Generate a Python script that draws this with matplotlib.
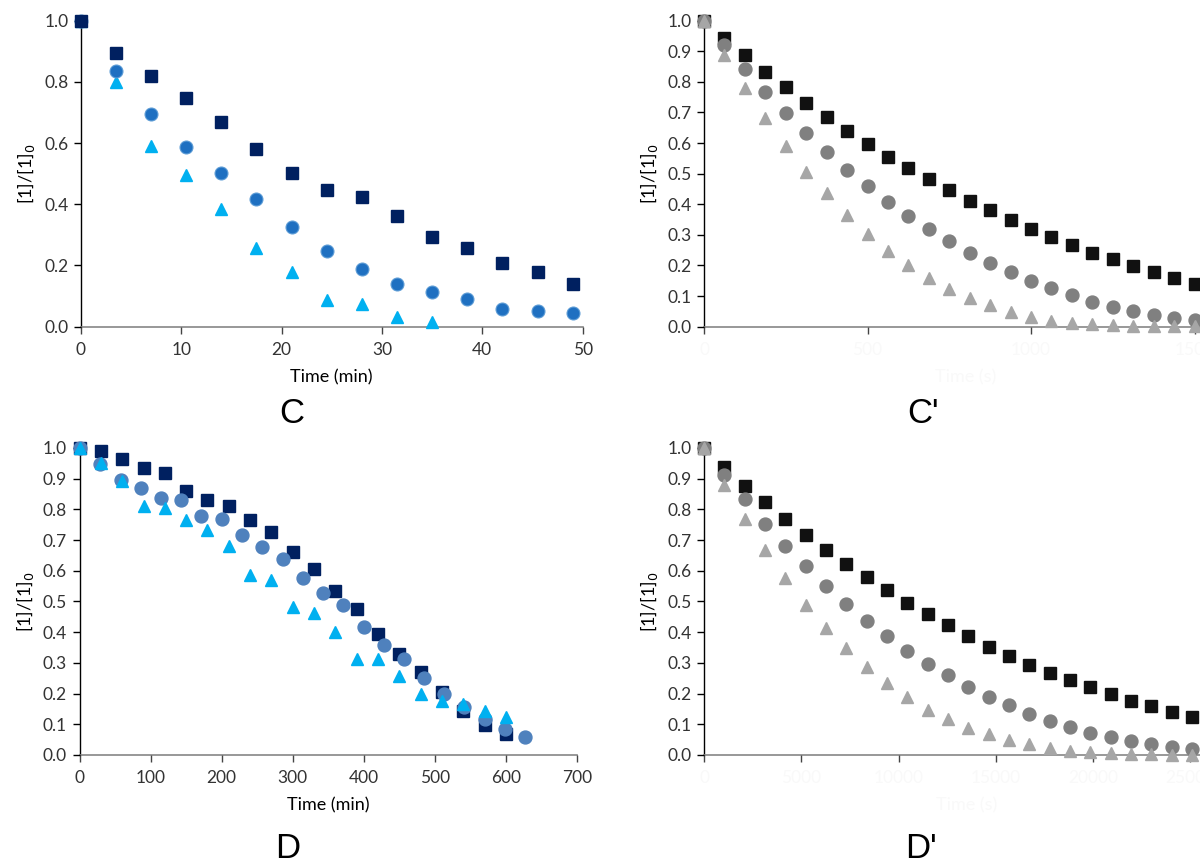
import matplotlib
matplotlib.use('Agg')
import matplotlib.pyplot as plt

plt.rcParams['font.family'] = ['Lato', 'DejaVu Sans']

# panel C (time in min)
c_t = [0, 3.5, 7, 10.5, 14, 17.5, 21, 24.5, 28, 31.5, 35, 38.5, 42, 45.5, 49]
c_sq = [1.0, 0.893, 0.820, 0.746, 0.668, 0.580, 0.503, 0.447, 0.423, 0.362,
        0.293, 0.256, 0.209, 0.179, 0.141]
c_ci = [1.0, 0.836, 0.694, 0.587, 0.503, 0.417, 0.325, 0.247, 0.190, 0.141,
        0.114, 0.092, 0.059, 0.051, 0.046]
c_tr_t = [0, 3.5, 7, 10.5, 14, 17.5, 21, 24.5, 28, 31.5, 35]
c_tr = [1.0, 0.800, 0.590, 0.496, 0.383, 0.258, 0.180, 0.088, 0.073, 0.033, 0.016]

# panel C' (time in s)
cp_t = [0, 62.5, 125, 187.5, 250, 312.5, 375, 437.5, 500, 562.5, 625, 687.5,
        750, 812.5, 875, 937.5, 1000, 1062.5, 1125, 1187.5, 1250, 1312.5,
        1375, 1437.5, 1500]
cp_sq = [1.0, 0.942, 0.888, 0.833, 0.782, 0.732, 0.686, 0.641, 0.597, 0.556,
         0.517, 0.481, 0.447, 0.412, 0.381, 0.349, 0.320, 0.294, 0.267, 0.242,
         0.220, 0.198, 0.179, 0.159, 0.141]
cp_ci = [1.0, 0.920, 0.841, 0.766, 0.697, 0.634, 0.570, 0.512, 0.461, 0.408,
         0.362, 0.319, 0.280, 0.242, 0.209, 0.178, 0.149, 0.125, 0.102, 0.082,
         0.065, 0.050, 0.039, 0.029, 0.022]
cp_tr = [1.0, 0.888, 0.779, 0.681, 0.592, 0.507, 0.437, 0.365, 0.303, 0.248,
         0.202, 0.160, 0.124, 0.093, 0.071, 0.049, 0.033, 0.020, 0.013, 0.008,
         0.004, 0.003, 0.002, 0.001, 0.001]

# panel D (time in min)
d_sq_t = [0, 30, 60, 90, 120, 150, 180, 210, 240, 270, 300, 330, 360, 390,
          420, 450, 480, 510, 540, 570, 600]
d_sq = [1.0, 0.989, 0.964, 0.934, 0.917, 0.861, 0.832, 0.812, 0.764, 0.726,
        0.660, 0.605, 0.535, 0.476, 0.395, 0.330, 0.269, 0.204, 0.142, 0.098,
        0.069]
d_ci_t = [0, 28.7, 58, 87, 115, 143, 171, 200, 229, 257, 286, 314, 343, 371,
          400, 428, 456, 485, 513, 541, 570, 599, 627]
d_ci = [1.0, 0.947, 0.895, 0.870, 0.837, 0.832, 0.780, 0.770, 0.716, 0.679,
        0.638, 0.575, 0.526, 0.490, 0.416, 0.359, 0.311, 0.250, 0.197, 0.156,
        0.118, 0.085, 0.058]
d_tr_t = [0, 30, 60, 90, 120, 150, 180, 210, 240, 270, 300, 330, 360, 390,
          420, 450, 480, 510, 540, 570, 600]
d_tr = [1.0, 0.951, 0.891, 0.812, 0.805, 0.767, 0.734, 0.680, 0.587, 0.569,
        0.481, 0.462, 0.402, 0.311, 0.311, 0.256, 0.197, 0.177, 0.167, 0.142,
        0.124]

# panel D' (time in s)
dp_t = [0, 1045, 2090, 3135, 4180, 5225, 6270, 7315, 8360, 9405, 10450,
        11495, 12540, 13585, 14630, 15675, 16720, 17765, 18810, 19855, 20900,
        21945, 22990, 24035, 25080]
dp_sq = [1.0, 0.938, 0.877, 0.823, 0.768, 0.717, 0.668, 0.623, 0.579, 0.536,
         0.495, 0.459, 0.422, 0.386, 0.353, 0.323, 0.293, 0.268, 0.245, 0.220,
         0.198, 0.176, 0.160, 0.141, 0.125]
dp_ci = [1.0, 0.911, 0.834, 0.753, 0.682, 0.616, 0.552, 0.491, 0.437, 0.388,
         0.339, 0.296, 0.259, 0.223, 0.190, 0.162, 0.135, 0.111, 0.092, 0.073,
         0.057, 0.045, 0.035, 0.027, 0.020]
dp_tr = [1.0, 0.880, 0.768, 0.668, 0.576, 0.489, 0.413, 0.348, 0.288, 0.234,
         0.190, 0.147, 0.116, 0.089, 0.067, 0.049, 0.035, 0.022, 0.014, 0.009,
         0.005, 0.003, 0.002, 0.001, 0.001]

NAVY = '#002060'
BLUE = '#1f70c1'
STEEL = '#4f81bd'
CYAN = '#00b0f0'
FAINT = '#f9f9f9'
MS = 9.3


def style_axes(ax, xlim, xticks, yticks, faint=False):
    ax.set_xlim(*xlim)
    ax.set_ylim(0, 1.0)
    ax.set_xticks(xticks)
    ax.set_yticks(yticks)
    ax.set_yticklabels(['%.1f' % v for v in yticks])
    ax.spines['top'].set_visible(False)
    ax.spines['right'].set_visible(False)
    ax.spines['bottom'].set_color('#868686')
    ax.spines['bottom'].set_linewidth(1.2)
    ax.spines['left'].set_color('black')
    ax.spines['left'].set_linewidth(1.0)
    ax.tick_params(axis='y', direction='out', length=5, width=1.0,
                   labelsize=12.5, colors='black', labelcolor='#333333', pad=4)
    ax.tick_params(axis='x', direction='out', length=5, width=1.0,
                   labelsize=12.5, color='#444444',
                   labelcolor=FAINT if faint else '#333333', pad=6)
    ax.set_ylabel('[1]/[1]$_0$', fontsize=13, labelpad=5)
    for sp in ax.spines.values():
        sp.set_zorder(0)


fig = plt.figure(figsize=(12, 8.64), dpi=100)

# C
ax = fig.add_axes([0.0673, 0.6219, 0.4183, 0.3542])
ax.plot(c_tr_t, c_tr, '^', ms=MS, color=CYAN, mec=CYAN, clip_on=False)
ax.plot(c_t, c_ci, 'o', ms=MS, color=BLUE, mec='#5b9bd5', mew=0.8, clip_on=False)
ax.plot(c_t, c_sq, 's', ms=MS, color=NAVY, mec=NAVY, clip_on=False)
style_axes(ax, (0, 50), [0, 10, 20, 30, 40, 50], [0, 0.2, 0.4, 0.6, 0.8, 1.0])
ax.set_xlabel('Time (min)', fontsize=13, labelpad=8)
fig.text(0.243, 1 - 413 / 864, 'C', fontsize=25, family='Liberation Sans',
         ha='center', va='center')

# C'
ax = fig.add_axes([0.5867, 0.6219, 0.436, 0.3542])
ax.plot(cp_t, cp_sq, 's', ms=MS, color='#111111', clip_on=False)
ax.plot(cp_t, cp_ci, 'o', ms=MS, color='#808080', clip_on=False)
ax.plot(cp_t, cp_tr, '^', ms=MS, color='#a6a6a6', clip_on=False)
style_axes(ax, (0, 1600), [0, 500, 1000, 1500],
           [0, 0.1, 0.2, 0.3, 0.4, 0.5, 0.6, 0.7, 0.8, 0.9, 1.0], faint=True)
ax.set_xlabel('Time (s)', fontsize=13, color=FAINT, labelpad=8)
fig.text(923 / 1200, 1 - 413 / 864, "C'", fontsize=25, family='Liberation Sans',
         ha='center', va='center')

# D
ax = fig.add_axes([0.0663, 0.1262, 0.4145, 0.3553])
ax.plot(d_sq_t, d_sq, 's', ms=MS, color=NAVY, clip_on=False)
ax.plot(d_ci_t, d_ci, 'o', ms=MS, color=STEEL, clip_on=False)
ax.plot(d_tr_t, d_tr, '^', ms=MS, color=CYAN, clip_on=False)
style_axes(ax, (0, 700), [0, 100, 200, 300, 400, 500, 600, 700],
           [0, 0.1, 0.2, 0.3, 0.4, 0.5, 0.6, 0.7, 0.8, 0.9, 1.0])
ax.set_xlabel('Time (min)', fontsize=13, labelpad=8)
fig.text(288 / 1200, 1 - 848 / 864, 'D', fontsize=25, family='Liberation Sans',
         ha='center', va='center')

# D'
ax = fig.add_axes([0.5867, 0.1262, 0.4378, 0.3553])
ax.plot(dp_t, dp_sq, 's', ms=MS, color='#111111', clip_on=False)
ax.plot(dp_t, dp_ci, 'o', ms=MS, color='#808080', clip_on=False)
ax.plot(dp_t, dp_tr, '^', ms=MS, color='#a6a6a6', clip_on=False)
style_axes(ax, (0, 27000), [0, 5000, 10000, 15000, 20000, 25000],
           [0, 0.1, 0.2, 0.3, 0.4, 0.5, 0.6, 0.7, 0.8, 0.9, 1.0], faint=True)
ax.set_xlabel('Time (s)', fontsize=13, color=FAINT, labelpad=8)
fig.text(921 / 1200, 1 - 848 / 864, "D'", fontsize=25, family='Liberation Sans',
         ha='center', va='center')

fig.savefig('out.png', dpi=100)
